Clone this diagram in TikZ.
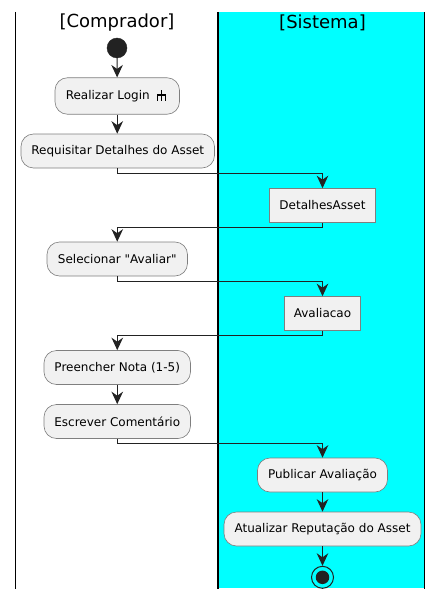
\documentclass[tikz,border=0pt]{standalone}
\usepackage{fontspec}
\setmainfont[Ligatures=TeXOff]{DejaVu Sans}
\usetikzlibrary{arrows.meta, positioning}
\definecolor{actfill}{HTML}{F1F1F1}
\definecolor{actline}{HTML}{7F7F7F}
\definecolor{dotfill}{HTML}{222222}
\definecolor{lanecyan}{HTML}{00FFFF}
\tikzstyle{action} = [rectangle, rounded corners=12.5pt, minimum height=34pt, inner xsep=5pt, inner ysep=0pt, align=center, draw=actline, fill=actfill, line width=0.6pt, text=black, font=\fontsize{12}{14}\selectfont]
\tikzstyle{objectbox} = [rectangle, minimum height=34pt, inner xsep=5pt, inner ysep=0pt, align=center, draw=actline, fill=actfill, line width=0.6pt, text=black, font=\fontsize{12}{14}\selectfont]
\tikzstyle{lanetitle} = [inner sep=0pt, text=black, font=\fontsize{18}{20}\selectfont]
\tikzstyle{startdot} = [circle, minimum size=20pt, inner sep=0pt, draw=dotfill, fill=dotfill]
\tikzstyle{stopring} = [circle, minimum size=22pt, inner sep=0pt, draw=dotfill, line width=1pt, fill=none]
\tikzstyle{stopdot} = [circle, minimum size=13.5pt, inner sep=0pt, draw=none, fill=dotfill]
\tikzstyle{connector} = [line width=1.1pt, draw=dotfill, -{Stealth[length=12.5pt, width=11.5pt, inset=4pt]}]
\tikzstyle{laneline} = [line width=1.5pt, black]

\begin{document}
\begin{tikzpicture}[x=1pt, y=-1pt]
  \useasboundingbox (0,0) rectangle (443,599);

  % Swimlanes
  \fill[lanecyan] (218,12.5) rectangle (424.5,588);
  \coordinate (laneA) at (15.5,12);
  \coordinate (laneB) at (218,12);
  \coordinate (laneC) at (424.5,12);
  \draw[laneline] (laneA) -- ++(0,577);
  \draw[laneline] (laneB) -- ++(0,577);
  \draw[laneline] (laneC) -- ++(0,577);
  \node (comprador) at (117,23) [lanetitle] {[Comprador]};
  \node (sistema) at (322.5,23) [lanetitle] {[Sistema]};

  % Left lane
  \node (start) at (117,48) [startdot] {};
  \node (login) at (117.25,96) [action, minimum width=124.5pt, minimum height=36.5pt] {Realizar Login\hspace*{19pt}};
  \node (requisitar) at (117.75,151) [action, minimum width=193.5pt] {Requisitar Detalhes do Asset};
  \node (selecionar) at (117.25,259) [action, minimum width=140.5pt] {Selecionar "Avaliar"};
  \node (preencher) at (117.25,367.5) [action, minimum width=146.5pt] {Preencher Nota (1-5)};
  \node (escrever) at (117.25,421.5) [action, minimum width=146.5pt] {Escrever Comentário};

  % Right lane
  \node (detalhes) at (322.5,205.5) [objectbox, minimum width=106.5pt] {DetalhesAsset};
  \node (avaliacao) at (322.5,313.5) [objectbox, minimum width=76.5pt] {Avaliacao};
  \node (publicar) at (322.5,475) [action, minimum width=130pt] {Publicar Avaliação};
  \node (atualizar) at (322.5,529) [action, minimum width=197pt] {Atualizar Reputação do Asset};
  \node (stopouter) at (322.5,577.3) [stopring] {};
  \node (stopinner) at (322.5,577.3) [stopdot] {};

  % Login icon
  \draw[line width=1.8pt, black] (161.5,90.5) -- (161.5,101);
  \draw[line width=1.5pt, black] (157.5,101) -- (157.5,95) -- (165.5,95) -- (165.5,101);

  % Arrows
  \draw[connector] (start) -- (login);
  \draw[connector] (login.south) -- (login.south |- requisitar.north);
  \draw[connector] (login.south |- requisitar.south) -- ++(0,5) -| (detalhes.north);
  \draw[connector] (detalhes.south) -- ++(0,5) -| (selecionar.north);
  \draw[connector] (selecionar.south) -- ++(0,5) -| (avaliacao.north);
  \draw[connector] (avaliacao.south) -- ++(0,5) -| (preencher.north);
  \draw[connector] (preencher) -- (escrever);
  \draw[connector] (escrever.south) -- ++(0,5) -| (publicar.north);
  \draw[connector] (publicar) -- (atualizar);
  \draw[connector] (atualizar) -- (stopouter);

\end{tikzpicture}
\end{document}
